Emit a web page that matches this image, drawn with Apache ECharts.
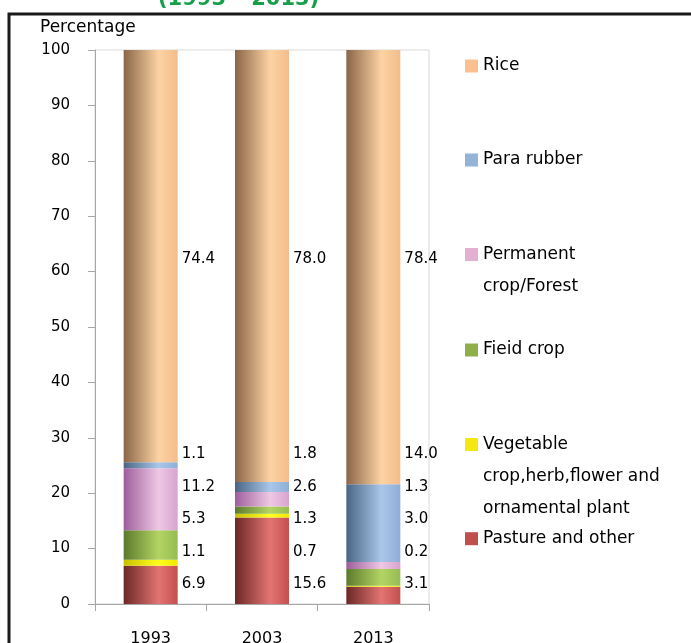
<!DOCTYPE html>
<html>
<head>
<meta charset="utf-8">
<script src="https://cdn.jsdelivr.net/npm/echarts@6/dist/echarts.min.js"></script>
<style>
html,body{margin:0;padding:0;background:#fff;}
#c{width:691px;height:643px;}
</style>
</head>
<body>
<div id="c"></div>
<script>
const years = ['1993', '2003', '2013'];
const pasture = [6.9, 15.6, 3.1];
const vegetable = [1.1, 0.7, 0.2];
const fieldCrop = [5.3, 1.3, 3.0];
const permanent = [11.2, 2.6, 1.3];
const paraRubber = [1.1, 1.8, 14.0];
const rice = [74.4, 78.0, 78.4];
const yTicks = [0, 10, 20, 30, 40, 50, 60, 70, 80, 90, 100];

const FONT = 'DejaVu Sans';
function grad(c0, c1, c2) {
  return new echarts.graphic.LinearGradient(0, 0, 1, 0, [
    {offset: 0, color: c0}, {offset: 0.65, color: c1}, {offset: 1, color: c2}
  ]);
}
const defs = [
  {name: 'Pasture and other', data: pasture, g: grad('#6b2826', '#e37472', '#c4504e'), flat: '#c0504d', row: 577, legTop: 522.7, lines: 1},
  {name: 'Vegetable\ncrop,herb,flower and\nornamental plant', data: vegetable, g: grad('#c8c000', '#ffff20', '#f0e800'), flat: '#f5e812', row: 545, legTop: 364.5, lines: 3},
  {name: 'Fieid crop', data: fieldCrop, g: grad('#5c7a2c', '#b3d464', '#96bc52'), flat: '#8db048', row: 512, legTop: 334, lines: 1},
  {name: 'Permanent\ncrop/Forest', data: permanent, g: grad('#9e5e9c', '#eec8e4', '#d8a3cf'), flat: '#e3b0d2', row: 480, legTop: 206.5, lines: 2},
  {name: 'Para rubber', data: paraRubber, g: grad('#4a6584', '#a9c7ea', '#8eaed6'), flat: '#95b3d7', row: 447, legTop: 144, lines: 1},
  {name: 'Rice', data: rice, g: grad('#8a6548', '#fdd3a3', '#f4bc8c'), flat: '#fac090', row: 252, legTop: 50, lines: 1}
];

const series = defs.map(d => ({
  name: d.name,
  type: 'bar',
  stack: 'total',
  barWidth: 54,
  data: d.data,
  itemStyle: {color: d.g},
  label: {
    show: true,
    position: 'right',
    distance: 4,
    color: '#000',
    fontFamily: FONT,
    fontSize: 15,
    formatter: p => p.value.toFixed(1)
  },
  labelLayout: {y: d.row}
}));

const legends = defs.map(d => ({
  data: [{name: d.name, itemStyle: {color: d.flat}}],
  left: 465,
  top: d.legTop,
  padding: 0,
  icon: 'rect',
  itemWidth: 13,
  itemHeight: 13,
  selectedMode: false,
  formatter: name => '\n'.repeat(d.lines - 1) + name,
  textStyle: {
    fontFamily: FONT,
    fontSize: 17,
    color: '#000',
    lineHeight: 32
  }
}));

const chart = echarts.init(document.getElementById('c'), null, {renderer: 'canvas'});
chart.setOption({
  animation: false,
  backgroundColor: '#fff',
  grid: {left: 95, right: 262, top: 50, bottom: 39, show: true, borderColor: '#d9d9d9', borderWidth: 1, outerBoundsMode: 'none', containLabel: false},
  legend: legends,
  xAxis: {
    type: 'category',
    data: years,
    axisLine: {lineStyle: {color: '#a6a6a6'}},
    axisTick: {show: true, length: 7, lineStyle: {color: '#a6a6a6'}},
    axisLabel: {margin: 27, color: '#000', fontFamily: FONT, fontSize: 16}
  },
  yAxis: {
    type: 'value',
    min: yTicks[0],
    max: yTicks[yTicks.length - 1],
    interval: yTicks[1] - yTicks[0],
    name: 'Percentage',
    nameLocation: 'end',
    nameGap: 14,
    nameTextStyle: {color: '#000', fontFamily: FONT, fontSize: 17, align: 'left', padding: [0, 0, 0, -55]},
    axisLine: {show: true, lineStyle: {color: '#a6a6a6'}},
    axisTick: {show: true, length: 7, lineStyle: {color: '#a6a6a6'}},
    splitLine: {show: false},
    axisLabel: {margin: 25, color: '#000', fontFamily: FONT, fontSize: 15}
  },
  graphic: [
    {type: 'rect', shape: {x: 9, y: 14, width: 800, height: 800}, style: {fill: 'none', stroke: '#1a1a1a', lineWidth: 3}, z: 100},
    {type: 'text', x: 158, y: 10, style: {text: '(1993 – 2013)', fill: '#17a04a', font: 'bold 21px "DejaVu Sans"', verticalAlign: 'bottom'}, z: 100}
  ],
  series: series
});
</script>
</body>
</html>
